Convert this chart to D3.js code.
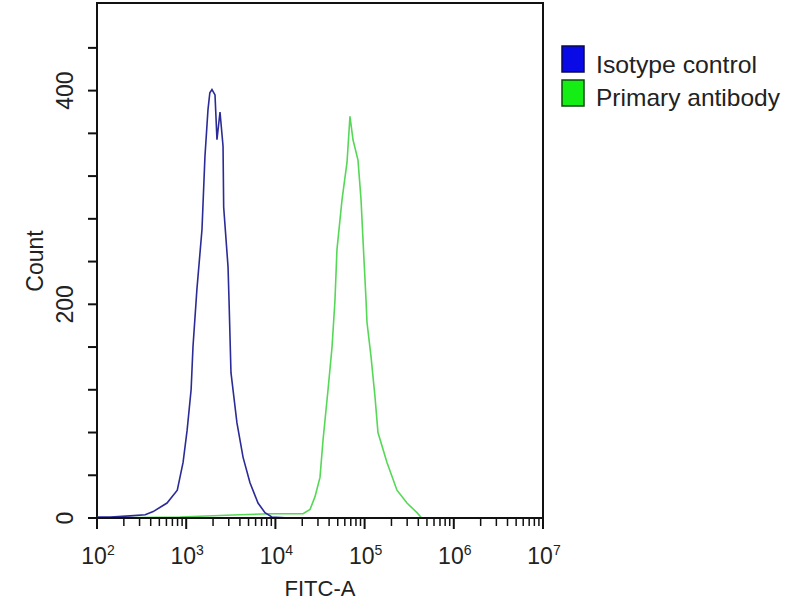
<!DOCTYPE html>
<html>
<head>
<meta charset="utf-8">
<script src="https://cdn.jsdelivr.net/npm/d3@7"></script>
<style>
  html, body { margin: 0; padding: 0; background: #fff; }
  text { font-family: "Liberation Sans", Arial, sans-serif; fill: #222; }
</style>
</head>
<body>
<svg id="chart" width="800" height="600"></svg>
<script>
// ---- data (log10 of FITC-A intensity, counts) ----
const isotypeLogX = [2.0, 2.15, 2.37, 2.54, 2.63, 2.785, 2.9, 2.965, 3.01, 3.055, 3.076, 3.12, 3.177, 3.21, 3.244, 3.265, 3.289, 3.323, 3.345, 3.379, 3.413, 3.42, 3.469, 3.48, 3.502, 3.569, 3.637, 3.715, 3.805, 3.883, 3.96, 4.16];
const isotypeCount = [1, 1, 2, 3, 6, 14, 26, 52, 82, 120, 160, 214, 270, 338, 382, 398, 401, 396, 354, 380, 348, 291, 235, 204, 136, 89, 57, 33, 14, 5, 1, 0];

const primaryLogX = [2.0, 2.93, 3.6, 3.94, 4.28, 4.31, 4.388, 4.444, 4.5, 4.534, 4.59, 4.635, 4.668, 4.69, 4.747, 4.803, 4.836, 4.87, 4.926, 4.96, 4.993, 5.016, 5.027, 5.072, 5.117, 5.15, 5.251, 5.363, 5.475, 5.587, 5.64];
const primaryCount = [0, 1, 3, 4, 4, 4, 8, 20, 38, 73, 120, 160, 204, 251, 298, 333, 376, 354, 335, 298, 242, 204, 183, 151, 113, 80, 52, 26, 14, 5, 0];

const seriesNames = ["Isotype control", "Primary antibody"];
const seriesColors = ["#2b2b98", "#55d855"];
const legendFills = ["#0a0ae6", "#14ee14"];
const legendStrokes = ["#0a0a50", "#0a4a0a"];

const xDecades = [2, 3, 4, 5, 6, 7];
const yTicks = [0, 40, 80, 120, 160, 200, 240, 280, 320, 360, 400, 440];
const yLabels = [0, 200, 400];

// ---- layout ----
const L = 97, R = 543, T = 3, B = 518;
const svg = d3.select("#chart");

const x = d3.scaleLog().domain([1e2, 1e7]).range([L, R]);
const y = d3.scaleLinear().domain([0, 482]).range([B, T]);

// frame
svg.append("rect").attr("x", L).attr("y", T).attr("width", R - L).attr("height", B - T)
  .attr("fill", "none").attr("stroke", "#111").attr("stroke-width", 2);

// x ticks (major + minor)
const minorVals = [];
xDecades.slice(0, -1).forEach(d => { for (let m = 2; m <= 9; m++) minorVals.push(m * Math.pow(10, d)); });
const gx = svg.append("g");
gx.selectAll("line.minor").data(minorVals).join("line")
  .attr("x1", d => x(d)).attr("x2", d => x(d))
  .attr("y1", B).attr("y2", B + 8)
  .attr("stroke", "#111").attr("stroke-width", 1.5);
gx.selectAll("line.major").data(xDecades).join("line")
  .attr("x1", d => x(Math.pow(10, d))).attr("x2", d => x(Math.pow(10, d)))
  .attr("y1", B).attr("y2", B + 11)
  .attr("stroke", "#111").attr("stroke-width", 2);
const xl = gx.selectAll("text").data(xDecades).join("text")
  .attr("x", d => x(Math.pow(10, d)) + 1)
  .attr("y", 564)
  .attr("text-anchor", "middle")
  .attr("font-size", 23);
xl.append("tspan").text("10");
xl.append("tspan").attr("dy", -9).attr("font-size", 14).text(d => d);

// y ticks
const gy = svg.append("g");
gy.selectAll("line").data(yTicks).join("line")
  .attr("x1", L - 9).attr("x2", L)
  .attr("y1", d => y(d)).attr("y2", d => y(d))
  .attr("stroke", "#111").attr("stroke-width", 2);
gy.selectAll("text").data(yLabels).join("text")
  .attr("transform", d => `translate(73,${y(d)}) rotate(-90)`)
  .attr("text-anchor", "middle")
  .attr("font-size", 23)
  .text(d => d);

// axis titles
svg.append("text").attr("transform", "translate(43,261) rotate(-90)")
  .attr("text-anchor", "middle").attr("font-size", 23).text("Count");
svg.append("text").attr("x", 320).attr("y", 596)
  .attr("text-anchor", "middle").attr("font-size", 22).text("FITC-A");

// curves
const line = d3.line().x(d => x(Math.pow(10, d[0]))).y(d => y(d[1]));
const series = [
  d3.zip(isotypeLogX, isotypeCount),
  d3.zip(primaryLogX, primaryCount)
];
svg.append("clipPath").attr("id", "clip").append("rect")
  .attr("x", L).attr("y", T).attr("width", R - L).attr("height", B - T);
svg.append("g").attr("clip-path", "url(#clip)")
  .selectAll("path").data(series.slice().reverse()).join("path")
  .attr("d", line)
  .attr("fill", "none")
  .attr("stroke", (d, i) => seriesColors[1 - i])
  .attr("stroke-width", 1.6);

// redraw bottom axis line on top of curves
svg.append("line").attr("x1", L).attr("x2", R).attr("y1", B).attr("y2", B)
  .attr("stroke", "#111").attr("stroke-width", 2);

// legend
const lg = svg.append("g");
seriesNames.forEach((name, i) => {
  lg.append("rect").attr("x", 562).attr("y", 46 + i * 34).attr("width", 22).attr("height", 26)
    .attr("fill", legendFills[i]).attr("stroke", legendStrokes[i]).attr("stroke-width", 1.5);
  lg.append("text").attr("x", 596).attr("y", 73 + i * 33)
    .attr("font-size", 24).attr("textLength", i === 0 ? 161 : 184).attr("lengthAdjust", "spacingAndGlyphs")
    .text(name);
});
</script>
</body>
</html>
